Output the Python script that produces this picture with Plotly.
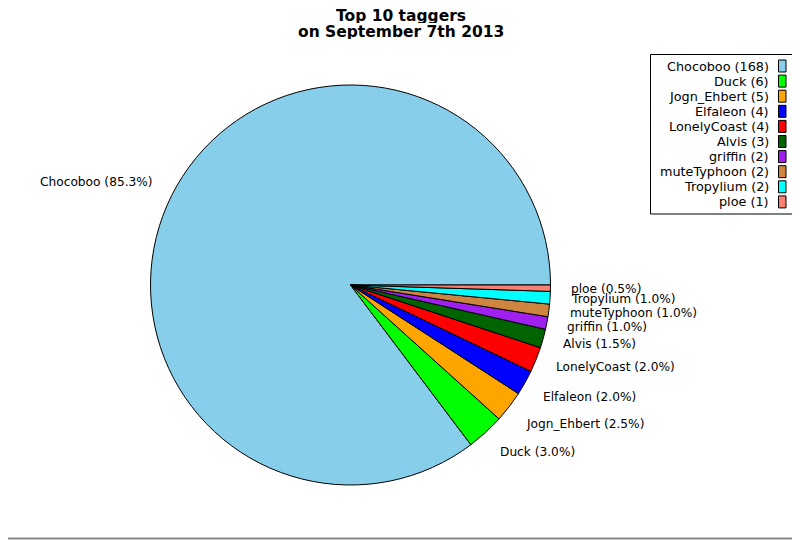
import math
import plotly.graph_objects as go

names = ["Chocoboo", "Duck", "Jogn_Ehbert", "Elfaleon", "LonelyCoast",
         "Alvis", "griffin", "muteTyphoon", "Tropylium", "ploe"]
counts = [168, 6, 5, 4, 4, 3, 2, 2, 2, 1]
colors = ["#87CEEB", "#00FF00", "#FFA500", "#0000FF", "#FF0000",
          "#006400", "#A020F0", "#CD853F", "#00FFFF", "#FA8072"]
title_lines = ["Top 10 taggers", "on September 7th 2013"]

# The page body has an 8px margin, so the figure is drawn 8px in from the
# window's corner; work in window pixels and convert.
OFF = 8
W, H = 800 - OFF, 540 - OFF
CX, CY, R = 350.5, 285.0, 200.0
LABEL_R = 220.0


def px(x):
    return (x - OFF) / W


def py(y):
    return 1 - (y - OFF) / H


total = sum(counts)
first_share = counts[0] / total

fig = go.Figure()
fig.add_trace(go.Pie(
    labels=names, values=counts, sort=False, direction="counterclockwise",
    rotation=90 + 360.0 * (1 - first_share), textinfo="none",
    hoverinfo="label+value+percent",
    marker=dict(colors=colors, line=dict(color="black", width=1)),
    showlegend=False,
    domain=dict(x=[px(CX - R), px(CX + R)], y=[py(CY + R), py(CY - R)]),
))

annotations = []
shapes = []
start = 0.0
for name, c in zip(names, counts):
    span = 360.0 * c / total
    mid = math.radians(start + span / 2)
    start += span
    xt = CX + LABEL_R * math.cos(mid)
    yt = CY - LABEL_R * math.sin(mid)
    cosv, sinv = math.cos(mid), math.sin(mid)
    xanchor = "left" if cosv > 0.38 else ("right" if cosv < -0.38 else "center")
    if sinv > 0.42:
        yshift = 5
    elif sinv < -0.42:
        yshift = -5
    else:
        yshift = 0
    annotations.append(dict(
        x=px(xt), y=py(yt), xref="paper", yref="paper", showarrow=False,
        text=f"{name} ({100.0 * c / total:.1f}%)", xanchor=xanchor, yanchor="middle",
        yshift=yshift,
        font=dict(family="DejaVu Sans", size=12.2, color="black"), borderpad=0,
    ))

# title
for i, t in enumerate(title_lines):
    annotations.append(dict(
        x=px(400.5), y=py(15.8 + 16 * i), xref="paper", yref="paper", showarrow=False,
        text=f"<b>{t}</b>", xanchor="center", yanchor="middle", height=15,
        font=dict(family="DejaVu Sans", size=15.5, color="black"), borderpad=0,
    ))

# legend
LX0, LX1, LY0, LY1 = 650.5, 792.5, 54.5, 214.0
shapes.append(dict(type="rect", xref="paper", yref="paper",
                   x0=px(LX0), x1=px(LX1), y0=py(LY1), y1=py(LY0),
                   line=dict(color="black", width=1), fillcolor="white", layer="below"))
for i, (name, c, col) in enumerate(zip(names, counts, colors)):
    yc = 66.0 + 15.1 * i
    annotations.append(dict(
        x=px(770), y=py(yc), xref="paper", yref="paper", showarrow=False,
        text=f"{name} ({c})", xanchor="right", yanchor="middle",
        font=dict(family="DejaVu Sans", size=12.8, color="black"), borderpad=0,
    ))
    shapes.append(dict(type="rect", xref="paper", yref="paper",
                       x0=px(778.5), x1=px(786), y0=py(yc + 6), y1=py(yc - 6),
                       line=dict(color="black", width=1), fillcolor=col))

# outer border (right and bottom edges of the window)
shapes.append(dict(type="rect", xref="paper", yref="paper",
                   x0=px(OFF - 4), x1=px(798.5), y0=py(538.5), y1=py(OFF - 4),
                   line=dict(color="#888888", width=2)))

fig.update_layout(
    width=W, height=H, margin=dict(l=0, r=0, t=0, b=0),
    paper_bgcolor="white", plot_bgcolor="white",
    annotations=annotations, shapes=shapes, showlegend=False,
)
fig.write_html("out.html")
